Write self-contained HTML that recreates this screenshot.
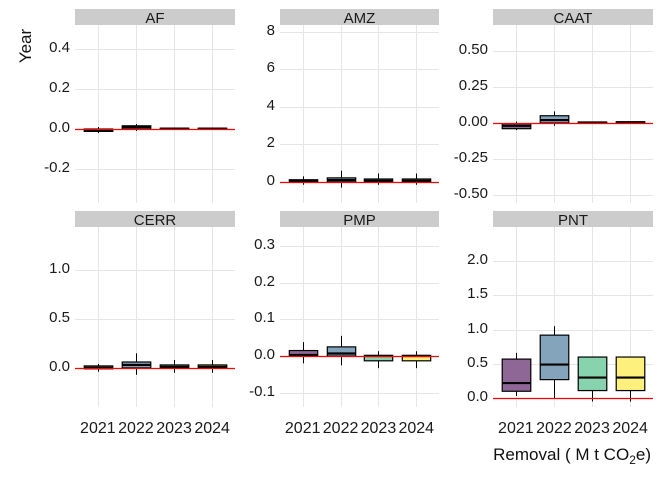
<!DOCTYPE html>
<html><head><meta charset="utf-8"><style>
body{margin:0;background:#fff;}
svg{font-family:"Liberation Sans",sans-serif;display:block;}
</style></head><body>
<svg id="chart" width="672" height="480" viewBox="0 0 672 480" xmlns="http://www.w3.org/2000/svg">
<text transform="translate(31,46) rotate(-90)" text-anchor="middle" font-size="17" fill="#111">Year</text>
<text x="651" y="460" text-anchor="end" font-size="17" fill="#111">Removal ( M t CO<tspan font-size="12" dy="4">2</tspan><tspan dy="-4">e)</tspan></text>
</svg>
<script>
const categories = ["2021","2022","2023","2024"];
const colors = ["#8f6796","#83a4bb","#86d3ae","#fdf07c"];
const panelNames = ["AF","AMZ","CAAT","CERR","PMP","PNT"];
const panelDomains = [[-0.37,0.52],[-1.12,8.37],[-0.556,0.68],[-0.40,1.44],[-0.139,0.352],[-0.13,2.5]];
const panelTicks = [[-0.2,0,0.2,0.4],[0,2,4,6,8],[-0.5,-0.25,0,0.25,0.5],[0,0.5,1.0],[-0.1,0,0.1,0.2,0.3],[0,0.5,1.0,1.5,2.0]];
const tickLabels = [["-0.2","0.0","0.2","0.4"],["0","2","4","6","8"],["-0.50","-0.25","0.00","0.25","0.50"],["0.0","0.5","1.0"],["-0.1","0.0","0.1","0.2","0.3"],["0.0","0.5","1.0","1.5","2.0"]];
// each box: [lowerWhisker, q1, median, q3, upperWhisker]
const afBoxes = [[-0.02,-0.012,-0.006,0.0,0.01],[-0.01,0.0,0.01,0.016,0.025],[0,0,0.002,0.004,0.005],[0,0,0.002,0.004,0.005]];
const amzBoxes = [[-0.15,0.0,0.05,0.12,0.3],[-0.3,0.0,0.1,0.22,0.6],[-0.15,0.0,0.07,0.16,0.45],[-0.15,0.0,0.07,0.16,0.45]];
const caatBoxes = [[-0.05,-0.04,-0.02,-0.005,0.01],[-0.02,0.0,0.02,0.05,0.08],[0,0,0.003,0.006,0.008],[0,0,0.004,0.008,0.01]];
const cerrBoxes = [[-0.04,-0.01,0.0,0.02,0.04],[-0.07,0.0,0.03,0.06,0.15],[-0.05,0.0,0.01,0.03,0.08],[-0.05,0.0,0.01,0.03,0.08]];
const pmpBoxes = [[-0.02,0.0,0.003,0.015,0.038],[-0.025,0.0,0.007,0.025,0.055],[-0.033,-0.013,0.0,0.002,0.013],[-0.033,-0.013,0.0,0.002,0.013]];
const pntBoxes = [[0.03,0.1,0.22,0.57,0.66],[0.0,0.27,0.49,0.92,1.05],[-0.05,0.11,0.3,0.6,0.6],[-0.05,0.11,0.3,0.6,0.6]];
const allBoxes = [afBoxes,amzBoxes,caatBoxes,cerrBoxes,pmpBoxes,pntBoxes];

const NS="http://www.w3.org/2000/svg";
const svg=document.getElementById("chart");
const colX=[[75,235],[280,439],[493,653]];
const rowY=[[9,25,203],[211,227,407]];
function mk(tag,attrs,parent){const e=document.createElementNS(NS,tag);for(const k in attrs)e.setAttribute(k,attrs[k]);(parent||svg).appendChild(e);return e;}

panelNames.forEach((name,p)=>{
  const [x0,x1]=colX[p%3];const [sy,y0,y1]=rowY[Math.floor(p/3)];
  const [dmin,dmax]=panelDomains[p];
  const yScale=v=>y1-(v-dmin)/(dmax-dmin)*(y1-y0);
  const step=(x1-x0)/4.2;
  const xScale=i=>x0+step*(0.6+i);
  const g=mk("g",{});
  
  
  const strip=mk("rect",{x:x0,y:sy,width:x1-x0,height:y0-sy,fill:"#cccccc"},g);
  
  
  const st=mk("text",{x:(x0+x1)/2,y:sy+14,"text-anchor":"middle","font-size":"15",fill:"#1a1a1a"},g);
  st.textContent=name;
  
  
  panelTicks[p].forEach((t,k)=>{
    const y=Math.round(yScale(t))+0.5;
    const gl=mk("line",{x1:x0,x2:x1,y1:y,y2:y,stroke:"#e5e5e5","stroke-width":1},g);
    
    
    const tl=mk("text",{x:x0-5,y:y+2.5,"text-anchor":"end","font-size":"15",fill:"#1a1a1a"},g);
    tl.textContent=tickLabels[p][k];
    
    
  });
  categories.forEach((c,i)=>{
    const x=Math.round(xScale(i))+0.5;
    const gl=mk("line",{x1:x,x2:x,y1:y0,y2:y1,stroke:"#e5e5e5","stroke-width":1},g);
    
    
  });
  const bw=step*0.75;
  allBoxes[p].forEach((b,i)=>{
    const cx=Math.round(xScale(i))+0.5;
    const bg=mk("g",{},g);
    
    
    mk("line",{x1:cx,x2:cx,y1:yScale(b[0]),y2:yScale(b[4]),stroke:"#000","stroke-width":1},bg);
    const top=yScale(b[3]),bot=yScale(b[1]);
    mk("rect",{x:cx-bw/2,y:top,width:bw,height:Math.max(bot-top,1),fill:colors[i],stroke:"#000","stroke-width":1.2},bg);
    mk("line",{x1:cx-bw/2,x2:cx+bw/2,y1:yScale(b[2]),y2:yScale(b[2]),stroke:"#000","stroke-width":2.2},bg);
  });
  const zy=Math.round(yScale(0))+0.5;
  const zl=mk("line",{x1:x0,x2:x1,y1:zy,y2:zy,stroke:"#ff0000","stroke-width":1.2},g);
  
  
  if(p>=3){
    categories.forEach((c,i)=>{
      const tl=mk("text",{x:xScale(i),y:433,"text-anchor":"middle","font-size":"16",fill:"#1a1a1a"},g);
      tl.textContent=c;
      
      
    });
  }
});
</script>
</body></html>
